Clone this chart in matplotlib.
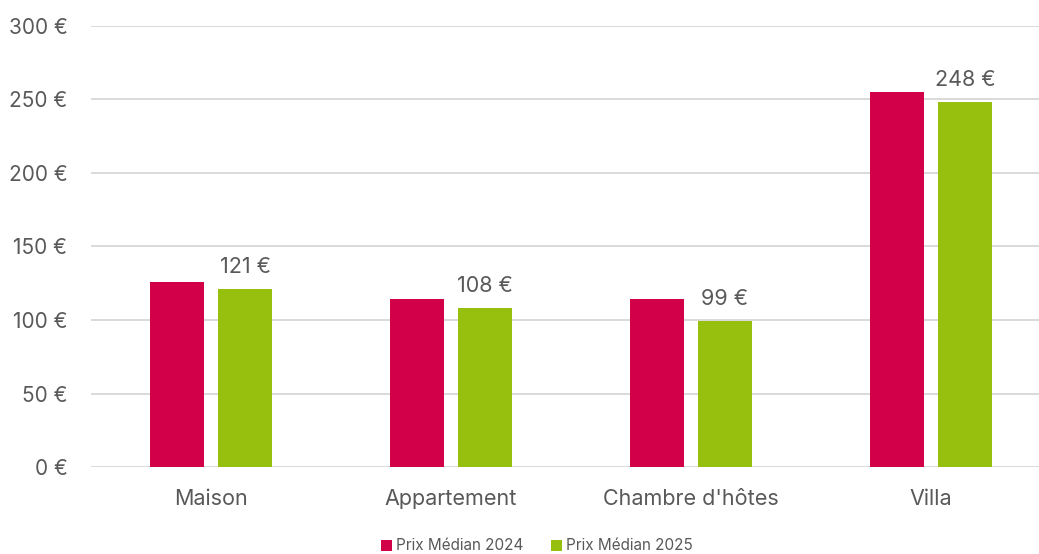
import matplotlib
matplotlib.use("Agg")
import matplotlib.pyplot as plt
import numpy as np

# data
categories = ["Maison", "Appartement", "Chambre d'hôtes", "Villa"]
prix_2024 = [126, 114, 114, 255]
prix_2025 = [121, 108, 99, 248]
series_labels = ["Prix Médian 2024", "Prix Médian 2025"]
y_ticks = [0, 50, 100, 150, 200, 250, 300]

RED = "#D20049"
GREEN = "#97BF0D"
TXT = "#595959"

plt.rcParams['font.family'] = ['Inter', 'DejaVu Sans']

fig = plt.figure(figsize=(10.39, 5.54), dpi=100)
ax = fig.add_axes([91 / 1039, 87 / 554, 960 / 1039, 441 / 554])

x = np.arange(len(categories))
w = 0.225
off = 0.1417
ax.bar(x - off, prix_2024, w, color=RED, label=series_labels[0], zorder=3)
bars25 = ax.bar(x + off, prix_2025, w, color=GREEN, label=series_labels[1], zorder=3)

# value labels only on the 2025 series
for b, v in zip(bars25, prix_2025):
    ax.text(b.get_x() + b.get_width() / 2, v + 8.5, f"{v} €",
            ha='center', va='bottom', fontsize=15.5, color=TXT)

ax.set_xlim(-0.5, len(categories) - 0.5)
ax.set_ylim(0, 300)
ax.set_yticks(y_ticks)
ax.set_yticklabels([f"{t} €" for t in y_ticks])
ax.set_xticks(x)
ax.set_xticklabels(categories)
ax.tick_params(axis='y', length=0, pad=17, labelsize=15, labelcolor=TXT)
ax.tick_params(axis='x', length=0, pad=16, labelsize=15.5, labelcolor=TXT)

ax.grid(axis='y', color="#D9D9D9", linewidth=1.4, zorder=0)
for s in ax.spines.values():
    s.set_visible(False)

fig.legend(loc='center', bbox_to_anchor=(537 / 1039, 8 / 554), ncol=2,
           frameon=False, fontsize=11, labelcolor=TXT, handlelength=0.7,
           handleheight=0.7, handletextpad=0.3, columnspacing=1.8)

fig.savefig("out.png", dpi=100)
